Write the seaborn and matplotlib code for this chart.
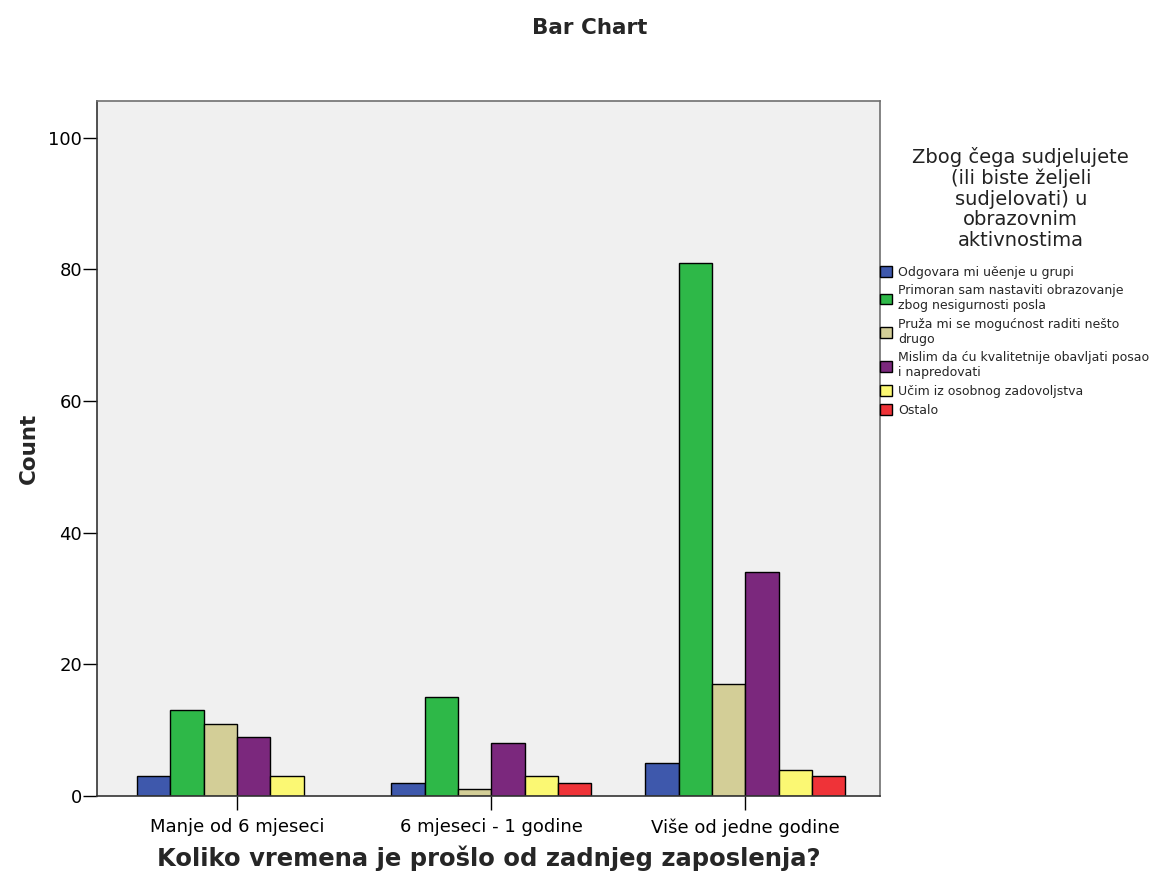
import numpy as np
import pandas as pd
import matplotlib.pyplot as plt
import seaborn as sns

# podaci procitani s grafa
grupe = ["Manje od 6 mjeseci", "6 mjeseci - 1 godine", "Više od jedne godine"]
razlozi = [
    "Odgovara mi uěenje u grupi",
    "Primoran sam nastaviti obrazovanje\nzbog nesigurnosti posla",
    "Pruža mi se mogućnost raditi nešto\ndrugo",
    "Mislim da ću kvalitetnije obavljati posao\ni napredovati",
    "Učim iz osobnog zadovoljstva",
    "Ostalo",
]
odgovara = [3, 2, 5]
primoran = [13, 15, 81]
pruza = [11, 1, 17]
mislim = [9, 8, 34]
ucim = [3, 3, 4]
ostalo = [np.nan, 2, 3]

boje = ["#3E58AC", "#2EB848", "#D3CE97", "#7B287D", "#FBF873", "#EF3338"]

serije = [odgovara, primoran, pruza, mislim, ucim, ostalo]
rows = []
for razlog, vrijednosti in zip(razlozi, serije):
    for g, v in zip(grupe, vrijednosti):
        rows.append({"grupa": g, "razlog": razlog, "count": v})
df = pd.DataFrame(rows).dropna()

sns.set_style("white")
plt.rcParams["font.family"] = ["DejaVu Sans"]

fig = plt.figure(figsize=(11.72, 8.86), dpi=100)
ax = fig.add_axes([0.083, 0.1016, 0.668, 0.7844])
ax.set_facecolor("#F0F0F0")

sns.barplot(data=df, x="grupa", y="count", hue="razlog", order=grupe,
            hue_order=razlozi, palette=boje, width=0.787, edgecolor="black",
            linewidth=1.0, saturation=1, ax=ax, legend=True)

ax.set_ylim(0, 105.6)
ax.set_xlim(-0.55, 2.53)
ax.set_yticks([0, 20, 40, 60, 80, 100])
ax.tick_params(axis="both", which="both", direction="out", length=10,
               width=1, colors="black", labelsize=13, left=True, bottom=True)
ax.tick_params(axis="y", pad=1)
ax.tick_params(axis="x", pad=6)

for s in ["top", "right"]:
    ax.spines[s].set_color("#707070")
    ax.spines[s].set_linewidth(1.2)
for s in ["left", "bottom"]:
    ax.spines[s].set_color("#333333")
    ax.spines[s].set_linewidth(1.2)

ax.set_xlabel("Koliko vremena je prošlo od zadnjeg zaposlenja?",
              fontsize=17.5, fontweight="bold", labelpad=6)
ax.set_ylabel("Count", fontsize=15.5, fontweight="bold", labelpad=7)

fig.text(0.503, 0.968, "Bar Chart", ha="center", va="center",
         fontsize=15.5, fontweight="bold")

fig.text(0.871, 0.776,
         "Zbog čega sudjelujete\n(ili biste željeli\nsudjelovati) u\nobrazovnim\naktivnostima",
         ha="center", va="center", fontsize=14, linespacing=1.1,
         color="#222222")

ax.legend(loc="upper left", bbox_to_anchor=(0.998, 0.765), frameon=False,
          fontsize=9, handlelength=0.95, handleheight=0.95, handletextpad=0.5,
          labelspacing=0.45, borderaxespad=0, borderpad=0.1)

fig.savefig("out.png", dpi=100, facecolor="white")
